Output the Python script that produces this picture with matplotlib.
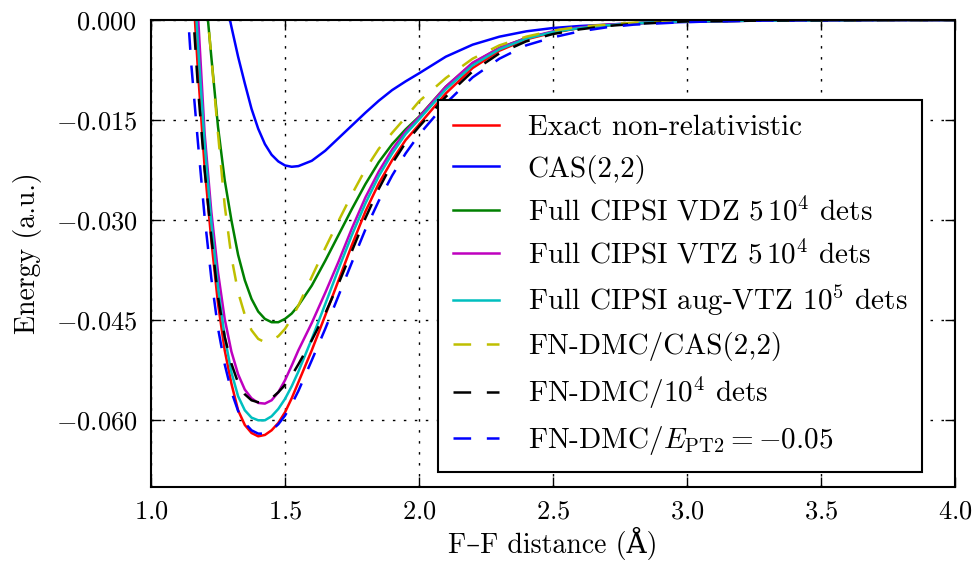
import matplotlib
matplotlib.use('Agg')
import matplotlib.pyplot as plt
from matplotlib.ticker import FixedLocator, FixedFormatter

plt.rcParams['font.family'] = ['cmr10', 'DejaVu Serif']
plt.rcParams['mathtext.fontset'] = 'cm'
plt.rcParams['axes.unicode_minus'] = False
plt.rcParams['lines.scale_dashes'] = False

# ---------------- data ----------------
distance = [1.10, 1.125, 1.15, 1.175, 1.20, 1.225, 1.25, 1.275, 1.30, 1.325,
            1.35, 1.375, 1.40, 1.425, 1.45, 1.475, 1.50, 1.525, 1.55, 1.60,
            1.65, 1.70, 1.75, 1.80, 1.85, 1.90, 1.95, 2.00, 2.10, 2.20,
            2.30, 2.40, 2.50, 2.60, 2.70, 2.80, 2.90, 3.00, 3.25, 3.50,
            3.75, 4.00]

exact = [0.050, 0.028, 0.0095, -0.0075, -0.0220, -0.0330, -0.0425, -0.0495, -0.0545, -0.0585,
         -0.0607, -0.0619, -0.0624, -0.0622, -0.0615, -0.0604, -0.0588, -0.0567, -0.0543, -0.0495,
         -0.0443, -0.0390, -0.0337, -0.0287, -0.0245, -0.0210, -0.0180, -0.0157, -0.0110, -0.0072,
         -0.0046, -0.0029, -0.0019, -0.0012, -0.0008, -0.0005, -0.0003, -0.0002, -0.0001, -0.00005,
         0.0, 0.0]

cas22 = [0.100, 0.080, 0.060, 0.044, 0.030, 0.019, 0.0105, 0.0037, -0.0010, -0.0055,
         -0.0095, -0.0133, -0.0163, -0.0186, -0.0202, -0.0212, -0.0218, -0.0220, -0.0219, -0.0211,
         -0.0196, -0.0177, -0.0158, -0.0139, -0.0121, -0.0105, -0.0092, -0.0080, -0.0055, -0.0037,
         -0.0025, -0.0017, -0.0012, -0.0009, -0.0007, -0.0005, -0.0004, -0.0003, -0.0001, -0.00005,
         0.0, 0.0]

cipsi_vdz = [0.070, 0.050, 0.034, 0.019, 0.0055, -0.0055, -0.0160, -0.0240, -0.0300, -0.0352,
             -0.0390, -0.0418, -0.0437, -0.0448, -0.0453, -0.0453, -0.0448, -0.0440, -0.0428, -0.0398,
             -0.0361, -0.0322, -0.0283, -0.0246, -0.0213, -0.0186, -0.0164, -0.0145, -0.0100, -0.0065,
             -0.0042, -0.0027, -0.0018, -0.0012, -0.0008, -0.0005, -0.0003, -0.0002, -0.0001, -0.00005,
             0.0, 0.0]

cipsi_vtz = [0.052, 0.034, 0.017, 0.001, -0.0170, -0.0287, -0.0378, -0.0448, -0.0497, -0.0531,
             -0.0554, -0.0567, -0.0574, -0.0575, -0.0570, -0.0558, -0.0540, -0.0518, -0.0495, -0.0454,
             -0.0409, -0.0362, -0.0312, -0.0266, -0.0227, -0.0194, -0.0167, -0.0146, -0.0100, -0.0064,
             -0.0042, -0.0027, -0.0017, -0.0011, -0.0007, -0.0005, -0.0003, -0.0002, -0.0001, -0.00005,
             0.0, 0.0]

cipsi_avtz = [0.046, 0.029, 0.0135, -0.0035, -0.0185, -0.0303, -0.0400, -0.0475, -0.0528, -0.0564,
              -0.0585, -0.0596, -0.0600, -0.0600, -0.0594, -0.0583, -0.0568, -0.0549, -0.0527, -0.0478,
              -0.0426, -0.0373, -0.0322, -0.0275, -0.0234, -0.0200, -0.0171, -0.0149, -0.0104, -0.0068,
              -0.0044, -0.0028, -0.0018, -0.0012, -0.0008, -0.0005, -0.0003, -0.0002, -0.0001, -0.00005,
              0.0, 0.0]

dmc_cas = [0.070, 0.050, 0.034, 0.019, 0.0055, -0.0055, -0.0170, -0.0278, -0.0355, -0.0408,
           -0.0442, -0.0465, -0.0478, -0.0483, -0.0480, -0.0474, -0.0463, -0.0447, -0.0428, -0.0385,
           -0.0342, -0.0301, -0.0261, -0.0224, -0.0193, -0.0169, -0.0146, -0.0122, -0.0087, -0.0058,
           -0.0038, -0.0025, -0.0016, -0.0010, -0.0007, -0.0004, -0.0003, -0.0002, -0.0001, -0.00005,
           0.0, 0.0]

dmc_1e4 = [0.045, 0.024, 0.0055, -0.0100, -0.0225, -0.0325, -0.0415, -0.0475, -0.0515, -0.0544,
           -0.0561, -0.0570, -0.0573, -0.0572, -0.0567, -0.0558, -0.0547, -0.0533, -0.0516, -0.0480,
           -0.0440, -0.0395, -0.0346, -0.0297, -0.0253, -0.0215, -0.0184, -0.0160, -0.0115, -0.0077,
           -0.0050, -0.0032, -0.0021, -0.0014, -0.0009, -0.0006, -0.0004, -0.0002, -0.0001, -0.00005,
           0.0, 0.0]

dmc_ept2 = [0.030, 0.0085, -0.0065, -0.0183, -0.0295, -0.0387, -0.0462, -0.0516, -0.0557, -0.0586,
            -0.0604, -0.0615, -0.0620, -0.0620, -0.0615, -0.0606, -0.0593, -0.0576, -0.0556, -0.0510,
            -0.0463, -0.0413, -0.0363, -0.0314, -0.0271, -0.0233, -0.0200, -0.0172, -0.0125, -0.0086,
            -0.0058, -0.0038, -0.0026, -0.0017, -0.0011, -0.0007, -0.0005, -0.0003, -0.0001, -0.00005,
            0.0, 0.0]

series_labels = [
    'Exact non-relativistic',
    'CAS(2,2)',
    r'Full CIPSI VDZ $5\,10^4$ dets',
    r'Full CIPSI VTZ $5\,10^4$ dets',
    r'Full CIPSI aug-VTZ $10^5$ dets',
    'FN-DMC/CAS(2,2)',
    r'FN-DMC/$10^4$ dets',
    r'FN-DMC/$E_{\mathrm{PT2}} = -0.05$',
]

x_ticks = [1.0, 1.5, 2.0, 2.5, 3.0, 3.5, 4.0]
x_tick_labels = [r'$1.0$', r'$1.5$', r'$2.0$', r'$2.5$', r'$3.0$', r'$3.5$', r'$4.0$']
y_ticks = [-0.060, -0.045, -0.030, -0.015, 0.000]
y_tick_labels = [r'$-0.060$', r'$-0.045$', r'$-0.030$', r'$-0.015$', r'$0.000$']

# ---------------- figure ----------------
fig = plt.figure(figsize=(9.74, 5.63), dpi=100)
ax = fig.add_axes([151 / 974, 1 - 487 / 563, 804 / 974, 467 / 563])

series = [exact, cas22, cipsi_vdz, cipsi_vtz, cipsi_avtz, dmc_cas, dmc_1e4, dmc_ept2]
colors = ['#ff0000', '#0000ff', '#008000', '#bf00bf', '#00bfbf', '#bfbf00', '#000000', '#0000ff']
dashed = [False, False, False, False, False, True, True, True]

lw = 1.8
for y, c, d, lab in zip(series, colors, dashed, series_labels):
    if d:
        ax.plot(distance, y, color=c, lw=lw, dashes=[12.7, 11.3], label=lab)
    else:
        ax.plot(distance, y, color=c, lw=lw, label=lab)

ax.set_xlim(1.0, 4.0)
ax.set_ylim(-0.070, 0.0)

ax.xaxis.set_major_locator(FixedLocator(x_ticks))
ax.xaxis.set_major_formatter(FixedFormatter(x_tick_labels))
ax.yaxis.set_major_locator(FixedLocator(y_ticks))
ax.yaxis.set_major_formatter(FixedFormatter(y_tick_labels))

ax.grid(True, color='k', linewidth=1.0, linestyle=(0, (1.8, 6.1)))
ax.set_axisbelow(True)

ax.tick_params(axis='both', which='major', direction='in', top=True, right=True,
               length=7, width=1.0, labelsize=19, colors='k')
ax.tick_params(axis='x', pad=9)
ax.tick_params(axis='y', pad=10)
for sp in ax.spines.values():
    sp.set_linewidth(1.5)
    sp.set_color('k')

ax.set_xlabel('F\u2013F distance (\u00c5)', fontsize=20)
ax.set_ylabel('Energy (a.u.)', fontsize=20)
ax.xaxis.set_label_coords(0.5, -0.085)
ax.yaxis.set_label_coords(-0.1356, 0.5)

leg = ax.legend(loc='lower right', bbox_to_anchor=(0.959, 0.032), fontsize=21,
                frameon=True, fancybox=False, framealpha=1.0, edgecolor='k',
                handlelength=1.58, handletextpad=1.0, labelspacing=0.47,
                borderpad=0.5, borderaxespad=0.0)
leg.get_frame().set_linewidth(1.5)

fig.savefig('out.png', dpi=100)
